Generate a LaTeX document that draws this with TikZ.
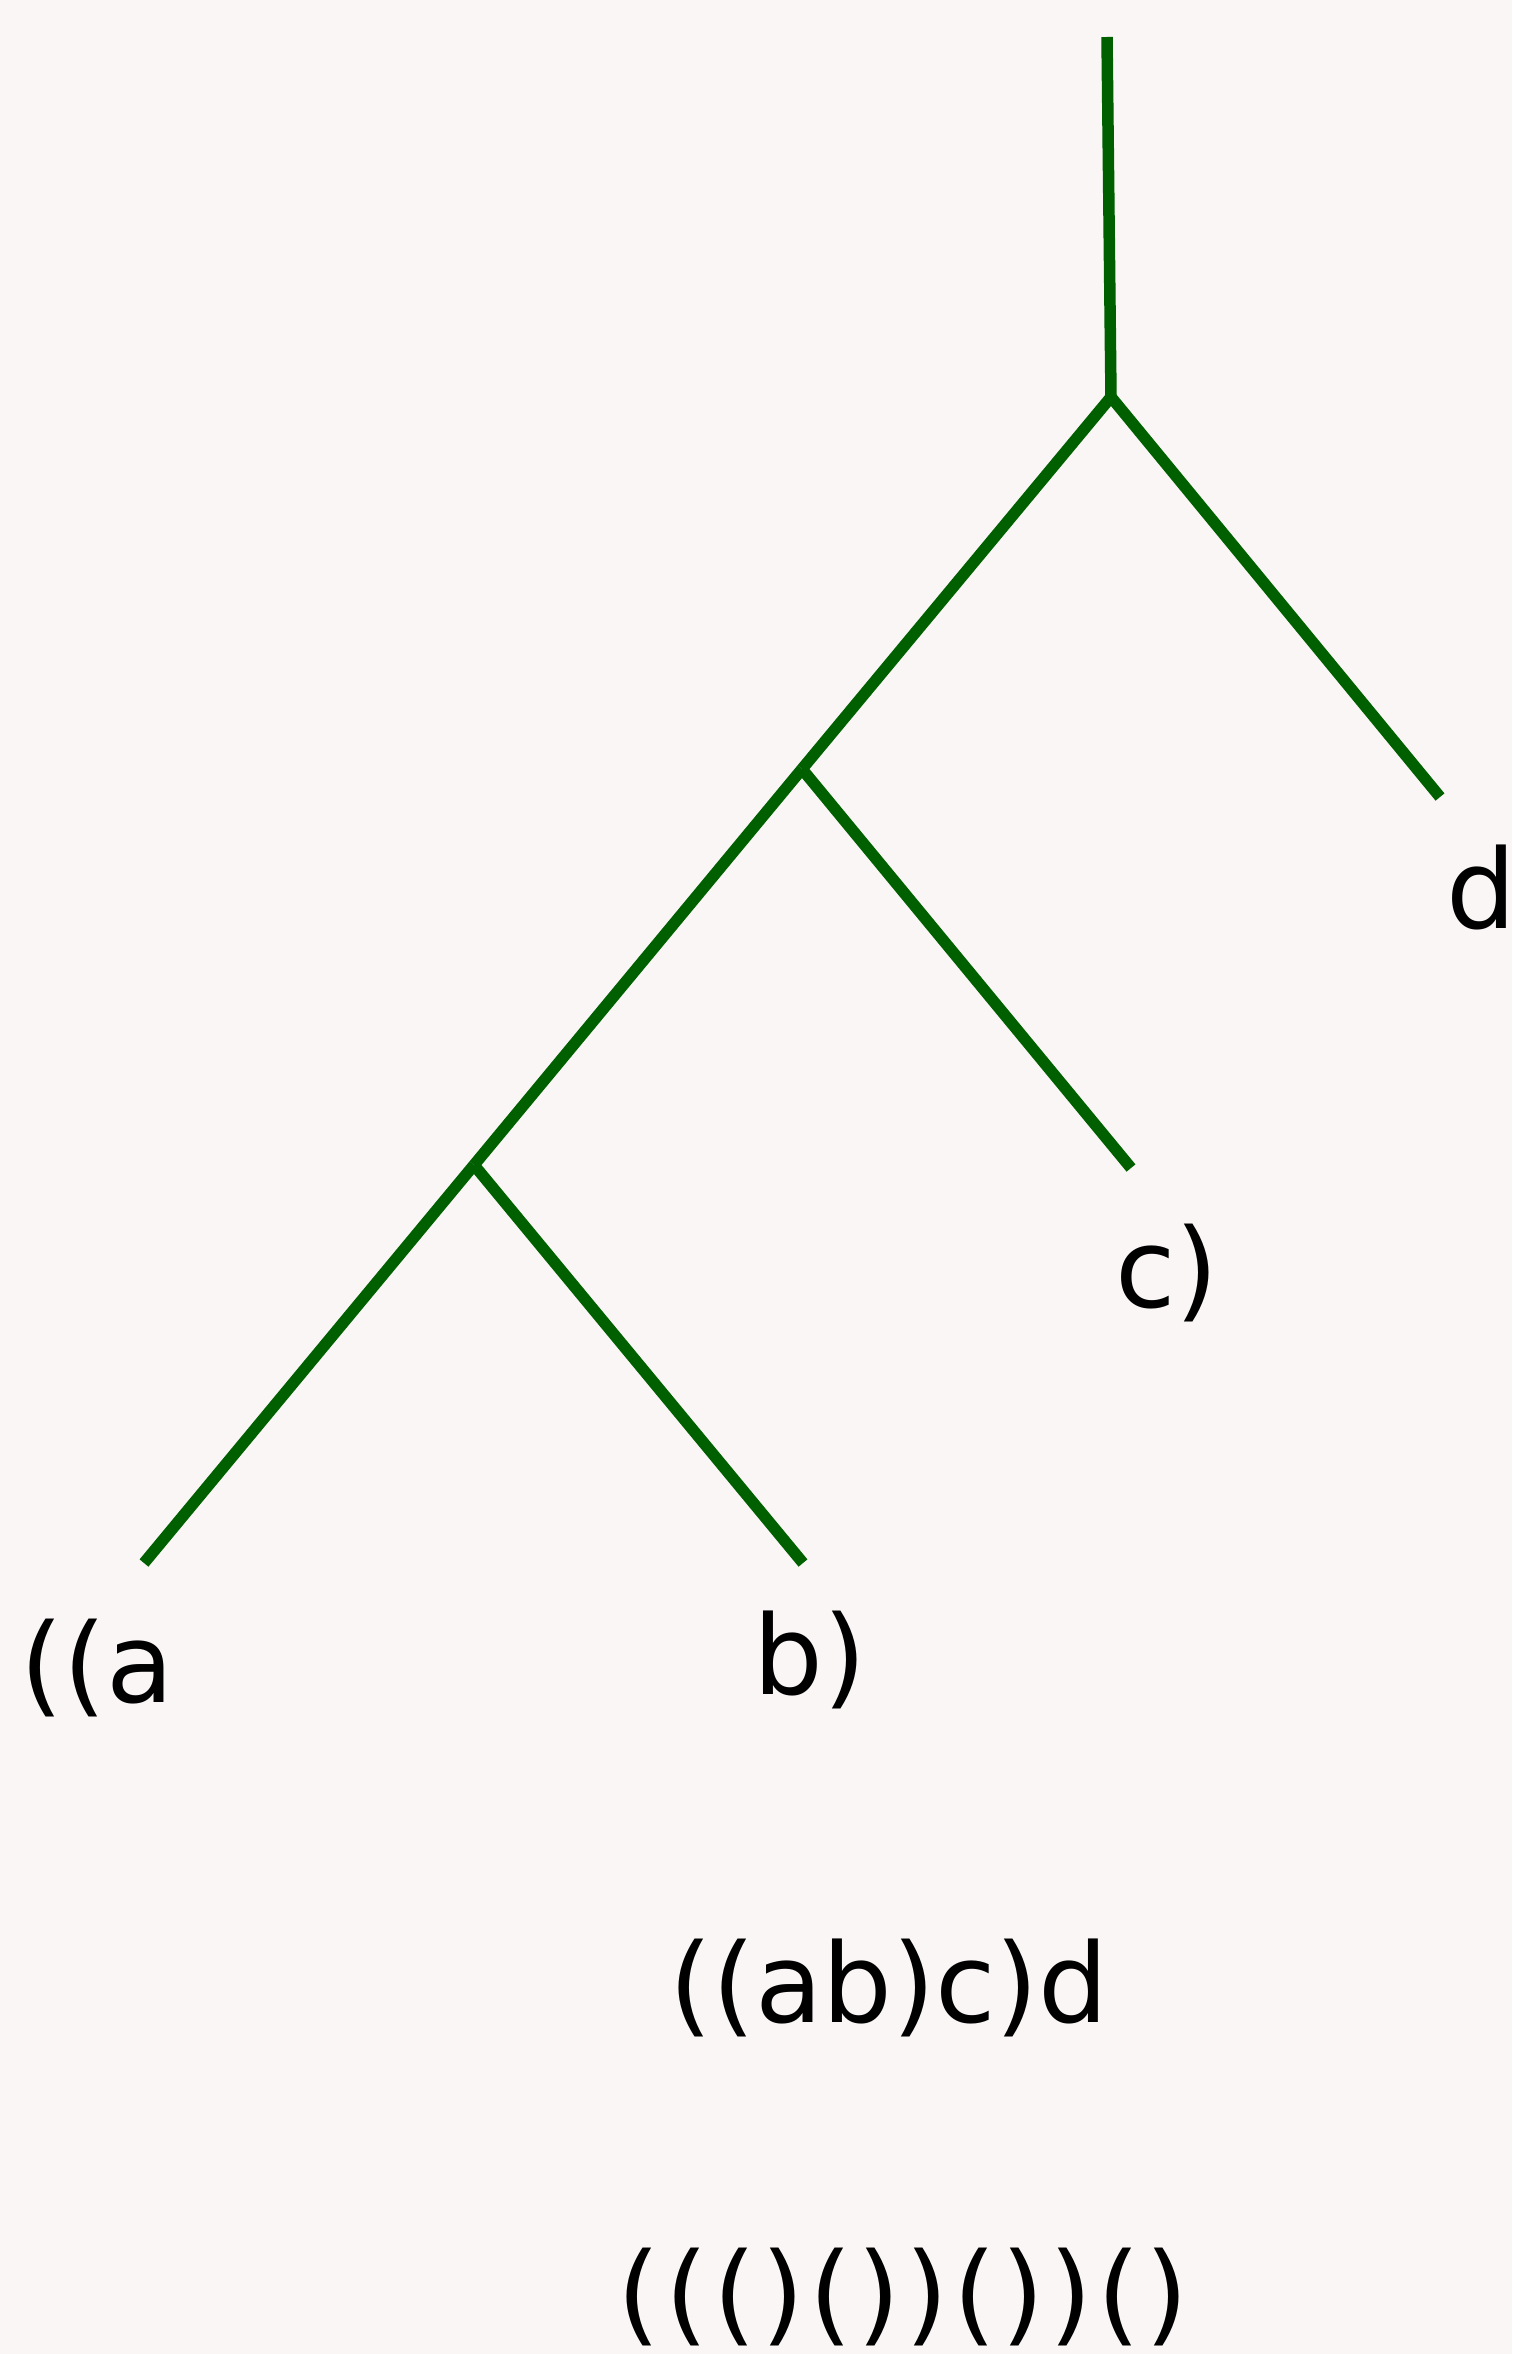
\documentclass[tikz,border=0pt]{standalone}
\usepackage{fontspec}
\setmainfont{DejaVu Sans}
\usetikzlibrary{positioning}
\definecolor{treegreen}{RGB}{0,96,0}
\definecolor{paper}{RGB}{249,246,245}
\newcommand{\pbox}[1]{\makebox[24pt]{#1}}
\begin{document}
\begin{tikzpicture}[x=0.5pt,y=-0.5pt,
    branch/.style={draw=treegreen,line width=5.75pt},
    leaftext/.style={anchor=base,inner sep=0pt,font=\fontsize{55}{66}\selectfont}]
  \fill[paper] (0,0) rectangle (1512,2354);
  \useasboundingbox (0,0) rectangle (1512,2354);
  \coordinate (top) at (1107,37);
  \coordinate (abcd) at (1111,397);
  \coordinate (abc) at (802,769);
  \coordinate (ab) at (474,1165);
  \foreach \name/\x/\y in {a/144/1563,b/803/1563,c/1131/1168,d/1440/797}{
    \coordinate (\name) at (\x,\y);
  }
  \draw[branch] (top) -- (abcd);
  \foreach \from/\to in {abcd/abc,abcd/d,abc/ab,abc/c,ab/a,ab/b}{
    \draw[branch] (\from) -- (\to);
  }
  \foreach \name/\x/\y/\txt in {ta/97/1702/{((a},tb/810/1694/{b)},tc/1167/1307/{c)},td/1481/928/{d},
      tword/889/2022/{((ab)c)d},
      tparen/903/2331/{\pbox(\pbox(\pbox(\pbox)\pbox(\pbox)\pbox)\pbox(\pbox)\pbox)\pbox(\pbox)}}{
    \node[leaftext] (\name) at (\x,\y) {\txt};
  }
\end{tikzpicture}
\end{document}
